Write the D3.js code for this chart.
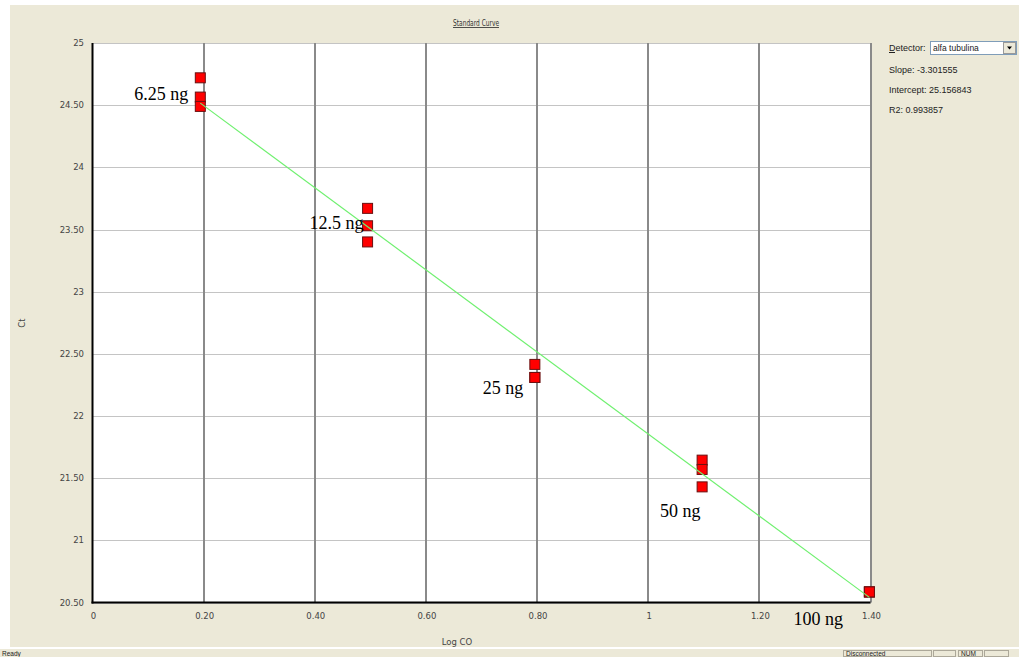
<!doctype html>
<html>
<head>
<title>Standard Curve</title>
<style type="text/css">
body { margin: 0; background: #fff; overflow: hidden; }
svg { display: block; }
</style>
<script src="https://cdnjs.cloudflare.com/ajax/libs/d3/7.8.5/d3.min.js"></script>
</head>
<body>
<script type="text/javascript">
var width = 1019, height = 657;

// data
var amounts = ["6.25 ng", "12.5 ng", "25 ng", "50 ng", "100 ng"];
var logCO = [0.194, 0.495, 0.796, 1.097, 1.398];
var ctValues = [
	[24.72, 24.565, 24.49],
	[23.67, 23.53, 23.40],
	[22.415, 22.31, 22.31],
	[21.645, 21.57, 21.43],
	[20.585, 20.585, 20.585]
];
var xTicks = [0, 0.2, 0.4, 0.6, 0.8, 1, 1.2, 1.4];
var xTickLabels = ["0", "0.20", "0.40", "0.60", "0.80", "1", "1.20", "1.40"];
var yTicks = [20.5, 21, 21.5, 22, 22.5, 23, 23.5, 24, 24.5, 25];
var yTickLabels = ["20.50", "21", "21.50", "22", "22.50", "23", "23.50", "24", "24.50", "25"];
var slope = -3.301555, intercept = 25.156843, r2 = 0.993857;
var detector = "alfa tubulina";
// label offsets (dx, dy) relative to the point group
var labelPos = [[-66, 22], [-58, 21], [-52, 30], [-42, 57], [-76, 33]];

var svg = d3.select("body").append("svg")
	.attr("width", width)
	.attr("height", height);

// window background
svg.append("rect").attr("x", 10).attr("y", 5).attr("width", width - 10).attr("height", 642).attr("fill", "#ece9d8");
svg.append("rect").attr("x", 0).attr("y", 649).attr("width", width).attr("height", 8).attr("fill", "#ece9d8");

var x = d3.scaleLinear().domain([0, 1.4]).range([92.5, 870.5]);
var y = d3.scaleLinear().domain([20.5, 25]).range([602.5, 43]);

// plot area
svg.append("rect")
	.attr("x", x(0)).attr("y", y(25))
	.attr("width", x(1.4) - x(0)).attr("height", y(20.5) - y(25))
	.attr("fill", "#fff");

// horizontal grid
svg.selectAll(".hgrid").data(yTicks).enter().append("line")
	.attr("class", "hgrid")
	.attr("x1", x(0)).attr("x2", x(1.4))
	.attr("y1", function(d) { return Math.round(y(d)) + 0.5; })
	.attr("y2", function(d) { return Math.round(y(d)) + 0.5; })
	.style("stroke", "#c4c4c4").style("stroke-width", 1);

// vertical grid
svg.selectAll(".vgrid").data(xTicks.slice(1)).enter().append("line")
	.attr("class", "vgrid")
	.attr("x1", function(d) { return Math.round(x(d)); })
	.attr("x2", function(d) { return Math.round(x(d)); })
	.attr("y1", y(25)).attr("y2", y(20.5))
	.style("stroke", "#8a8a8a").style("stroke-width", 2);

// axes lines
svg.append("line").attr("x1", x(0)).attr("x2", x(0)).attr("y1", y(25)).attr("y2", y(20.5) + 1)
	.style("stroke", "#000").style("stroke-width", 2);
svg.append("line").attr("x1", x(0) - 1).attr("x2", x(1.4)).attr("y1", y(20.5)).attr("y2", y(20.5))
	.style("stroke", "#000").style("stroke-width", 2);

// tick labels
svg.selectAll(".ylab").data(yTicks).enter().append("text")
	.attr("x", 84).attr("y", function(d) { return y(d) + 3; })
	.attr("text-anchor", "end")
	.style("font-family", "DejaVu Sans").style("font-size", "8.5px").style("fill", "#444")
	.text(function(d, i) { return yTickLabels[i]; });
svg.selectAll(".xlab").data(xTicks).enter().append("text")
	.attr("x", function(d) { return x(d) + 1; }).attr("y", 619)
	.attr("text-anchor", "middle")
	.style("font-family", "DejaVu Sans").style("font-size", "8.5px").style("fill", "#444")
	.text(function(d, i) { return xTickLabels[i]; });

// axis titles
svg.append("text").attr("x", 457).attr("y", 645).attr("text-anchor", "middle")
	.style("font-family", "DejaVu Sans").style("font-size", "8.5px").style("fill", "#444")
	.text("Log CO");
svg.append("text").attr("transform", "translate(25,323) rotate(-90)").attr("text-anchor", "middle")
	.style("font-family", "DejaVu Sans").style("font-size", "8.5px").style("fill", "#444")
	.text("Ct");

// title
svg.append("text").attr("x", 476).attr("y", 26).attr("text-anchor", "middle")
	.attr("textLength", 46).attr("lengthAdjust", "spacingAndGlyphs")
	.style("font-family", "DejaVu Sans").style("font-size", "8.5px").style("fill", "#333")
	.style("text-decoration", "underline")
	.text("Standard Curve");

// points
var pts = [];
ctValues.forEach(function(vals, i) {
	vals.forEach(function(v) { pts.push({x: logCO[i], y: v}); });
});
svg.selectAll(".pt").data(pts).enter().append("rect")
	.attr("class", "pt")
	.attr("x", function(d) { return x(d.x) - 5; })
	.attr("y", function(d) { return y(d.y) - 5; })
	.attr("width", 10).attr("height", 10)
	.style("fill", "#ff0000").style("stroke", "#6a1010").style("stroke-width", 1);

// fit line
var fitX = [logCO[0], logCO[logCO.length - 1]];
svg.append("line")
	.attr("x1", x(fitX[0])).attr("y1", y(slope * fitX[0] + intercept))
	.attr("x2", x(fitX[1])).attr("y2", y(slope * fitX[1] + intercept))
	.style("stroke", "#70f070").style("stroke-width", 1.2);

// amount labels
svg.selectAll(".amt").data(amounts).enter().append("text")
	.attr("x", function(d, i) { return x(logCO[i]) + labelPos[i][0]; })
	.attr("y", function(d, i) { return y(ctValues[i][0]) + labelPos[i][1]; })
	.style("font-family", "Liberation Serif").style("font-size", "18px").style("fill", "#000")
	.text(function(d) { return d; });

// right panel
var panelFont = function(sel, size) {
	return sel.style("font-family", "Liberation Sans").style("font-size", (size || 9) + "px").style("fill", "#222");
};
panelFont(svg.append("text").attr("x", 889).attr("y", 51).text("Detector:"));
svg.append("line").attr("x1", 889).attr("x2", 895).attr("y1", 52.5).attr("y2", 52.5).style("stroke", "#222");
svg.append("rect").attr("x", 930.5).attr("y", 41.5).attr("width", 86).attr("height", 13)
	.style("fill", "#fff").style("stroke", "#7f9db9");
panelFont(svg.append("text").attr("x", 933).attr("y", 51).text(detector), 8.5);
svg.append("rect").attr("x", 1003.5).attr("y", 42.5).attr("width", 12).attr("height", 11)
	.style("fill", "#ece9d8").style("stroke", "#999");
svg.append("path").attr("d", "M1007,46.5 L1012,46.5 L1009.5,49.5 Z").style("fill", "#000");
panelFont(svg.append("text").attr("x", 889).attr("y", 73).text("Slope:  " + slope.toFixed(6)));
panelFont(svg.append("text").attr("x", 889).attr("y", 93).text("Intercept:  " + intercept.toFixed(6)));
panelFont(svg.append("text").attr("x", 889).attr("y", 113).text("R2:  " + r2.toFixed(6)));

// status bar
svg.append("line").attr("x1", 0).attr("x2", width).attr("y1", 648.5).attr("y2", 648.5).style("stroke", "#fff");
panelFont(svg.append("text").attr("x", 2).attr("y", 656).text("Ready"), 6.5);
[[843, 88], [933, 22], [958, 24], [984, 24]].forEach(function(p) {
	svg.append("rect").attr("x", p[0] + 0.5).attr("y", 650.5).attr("width", p[1]).attr("height", 6)
		.style("fill", "none").style("stroke", "#aca899");
});
panelFont(svg.append("text").attr("x", 846).attr("y", 656).text("Disconnected"), 6.5);
panelFont(svg.append("text").attr("x", 961).attr("y", 656).text("NUM"), 6.5);
</script>
</body>
</html>
